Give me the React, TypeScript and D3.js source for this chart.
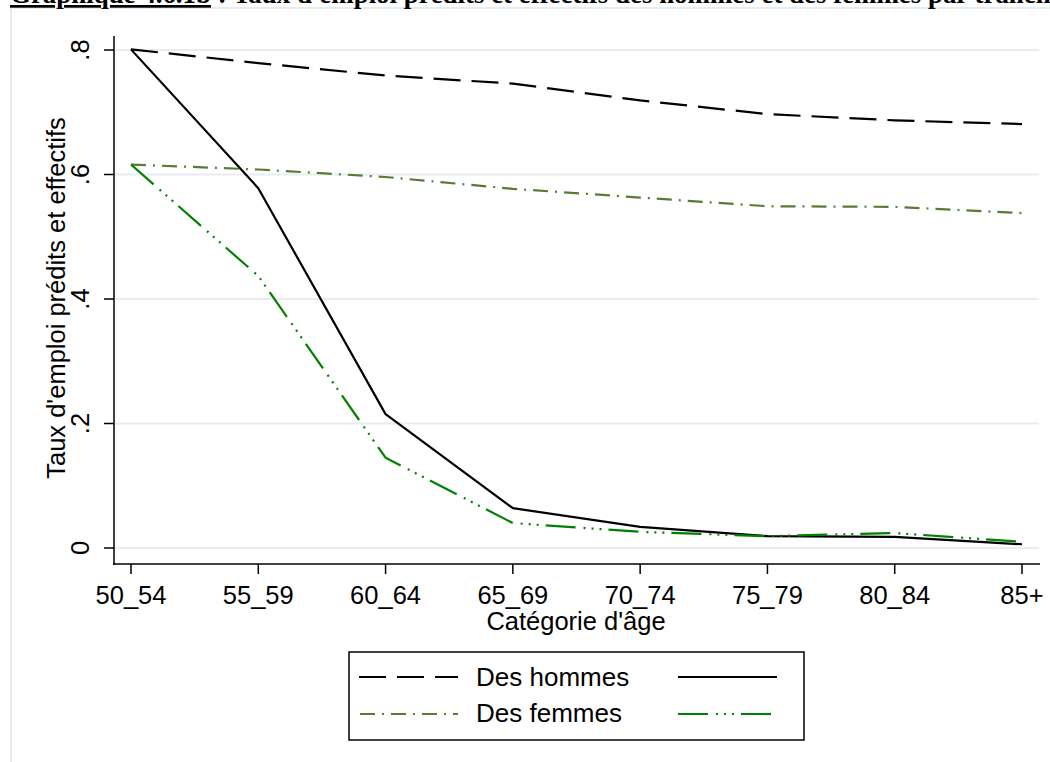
import React from "react";
import * as d3 from "d3";

const categories = ["50_54", "55_59", "60_64", "65_69", "70_74", "75_79", "80_84", "85+"];
const hommesPredits = [0.801, 0.779, 0.759, 0.746, 0.719, 0.697, 0.687, 0.681];
const hommesEffectifs = [0.801, 0.578, 0.215, 0.064, 0.034, 0.019, 0.018, 0.006];
const femmesPredites = [0.616, 0.608, 0.596, 0.577, 0.563, 0.549, 0.548, 0.538];
const femmesEffectives = [0.616, 0.437, 0.145, 0.040, 0.026, 0.019, 0.024, 0.010];
const yTicks = [0, 0.2, 0.4, 0.6, 0.8];
const yTickLabels = ["0", ".2", ".4", ".6", ".8"];

const W = 1050;
const H = 762;
const FONT = "Liberation Sans, Arial, sans-serif";
const FS = 25.5;

const series = [
  { values: hommesPredits, color: "#000000", dash: "27,11" },
  { values: hommesEffectifs, color: "#000000", dash: "none" },
  { values: femmesPredites, color: "#5a7b35", dash: "15,7,2,7" },
  { values: femmesEffectives, color: "#008000", dash: "30,8,2,6,2,6,2,7" },
];

export default function App() {
  const x = d3.scalePoint<string>().domain(categories).range([131, 1022]);
  const y = d3.scaleLinear().domain([0, 0.8]).range([548, 50]);
  const line = (vals: number[]) =>
    d3
      .line<number>()
      .x((_, i) => x(categories[i]) as number)
      .y((d) => y(d))(vals) as string;

  return (
    <div style={{ position: "absolute", left: 0, top: 0 }}>
      <svg width={W} height={H} style={{ display: "block", background: "#fff" }}>
        {/* outer frame */}
        <line x1={11} y1={8} x2={W} y2={8} stroke="#e4ecef" strokeWidth={2} />
        <line x1={11} y1={8} x2={11} y2={H} stroke="#e4ecef" strokeWidth={2} />
        {/* title, clipped at top as in the source */}
        <text
          x={10}
          y={3}
          fontFamily="Liberation Serif, Times New Roman, serif"
          fontWeight="bold"
          fontSize={26.9}
          fill="#000"
        >
          <tspan textDecoration="underline">Graphique 4.6.1b</tspan>
          <tspan> : Taux d'emploi prédits et effectifs des hommes et des femmes par tranche d'âge</tspan>
        </text>
        {/* gridlines */}
        {yTicks.map((t) => (
          <line key={"g" + t} x1={114} x2={1039} y1={y(t)} y2={y(t)} stroke="#e6eef2" strokeWidth={2} />
        ))}
        {/* axes */}
        <line x1={114} x2={114} y1={36} y2={565} stroke="#000" strokeWidth={1.5} />
        <line x1={113} x2={1040} y1={564} y2={564} stroke="#000" strokeWidth={1.5} />
        {yTicks.map((t, i) => (
          <g key={"y" + t}>
            <line x1={104} x2={114} y1={y(t)} y2={y(t)} stroke="#000" strokeWidth={1.5} />
            <text
              transform={`translate(89,${y(t)}) rotate(-90)`}
              textAnchor="middle"
              fontFamily={FONT}
              fontSize={FS}
              fill="#000"
            >
              {yTickLabels[i]}
            </text>
          </g>
        ))}
        {categories.map((c) => (
          <g key={"x" + c}>
            <line x1={x(c)} x2={x(c)} y1={564} y2={574} stroke="#000" strokeWidth={1.5} />
            <text x={x(c)} y={604} textAnchor="middle" fontFamily={FONT} fontSize={FS} fill="#000">
              {c}
            </text>
          </g>
        ))}
        <text x={576} y={630} textAnchor="middle" fontFamily={FONT} fontSize={FS} fill="#000">
          Catégorie d'âge
        </text>
        <text
          transform={`translate(65,298) rotate(-90)`}
          textAnchor="middle"
          fontFamily={FONT}
          fontSize={FS}
          fill="#000"
        >
          Taux d'emploi prédits et effectifs
        </text>
        {/* series */}
        {series.map((s, i) => (
          <path
            key={"s" + i}
            d={line(s.values)}
            fill="none"
            stroke={s.color}
            strokeWidth={2.2}
            strokeDasharray={s.dash}
            strokeLinejoin="round"
          />
        ))}
        {/* legend */}
        <rect x={349} y={652} width={455} height={88} fill="#fff" stroke="#000" strokeWidth={1.5} />
        <line x1={359} x2={458} y1={677} y2={677} stroke={series[0].color} strokeWidth={2.2} strokeDasharray={series[0].dash} />
        <line x1={678} x2={777} y1={677} y2={677} stroke={series[1].color} strokeWidth={2.2} strokeDasharray={series[1].dash} />
        <line x1={360} x2={458} y1={714} y2={714} stroke={series[2].color} strokeWidth={2.2} strokeDasharray={series[2].dash} />
        <line x1={678} x2={777} y1={714} y2={714} stroke={series[3].color} strokeWidth={2.2} strokeDasharray={series[3].dash} />
        <text x={476} y={686} fontFamily={FONT} fontSize={26} fill="#000">Des hommes</text>
        <text x={476} y={722} fontFamily={FONT} fontSize={26} fill="#000">Des femmes</text>
      </svg>
    </div>
  );
}
